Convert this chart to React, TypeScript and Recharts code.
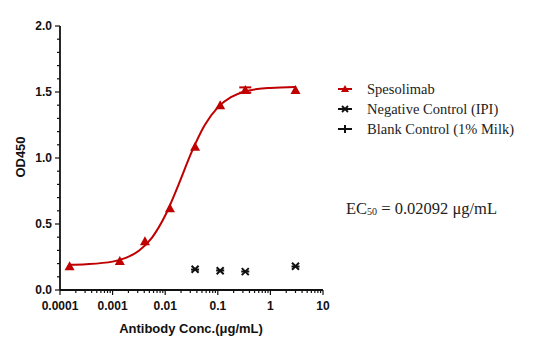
import React from "react"
import { ComposedChart, Line, Scatter, XAxis, YAxis, ErrorBar } from "recharts"

// Spesolimab measured points (3-fold dilution)
const concs = [0.000152, 0.00137, 0.00412, 0.0123, 0.037, 0.111, 0.333, 3]
const speso = [0.18, 0.22, 0.37, 0.62, 1.085, 1.40, 1.515, 1.515]
const spesoErr = [0, 0, 0, 0, 0, 0, 0.02, 0]

// fitted curve
const curveX = [0.000152, 0.000316, 0.001, 0.00178, 0.00316, 0.00562, 0.01, 0.0178, 0.0316, 0.0562, 0.1, 0.178, 0.316, 0.562, 1, 3]
const curveY = [0.192, 0.196, 0.215, 0.243, 0.297, 0.397, 0.564, 0.795, 1.042, 1.248, 1.384, 1.461, 1.502, 1.522, 1.531, 1.538]

const ctrlX = [0.037, 0.111, 0.333, 3]
const negCtrl = [0.157, 0.146, 0.139, 0.18]
const blankCtrl = [0.155, 0.148, 0.14, 0.178]

const xMajor = [0.0001, 0.001, 0.01, 0.1, 1, 10]
const xMajorLabels = ["0.0001", "0.001", "0.01", "0.1", "1", "10"]
const yMajor = [0, 0.5, 1, 1.5, 2]
const yMajorLabels = ["0.0", "0.5", "1.0", "1.5", "2.0"]

const RED = "#c00000"

const spesoData = concs.map((x, i) => ({ x, y: speso[i], err: spesoErr[i] }))
const curveData = curveX.map((x, i) => ({ x, y: curveY[i] }))
const negData = ctrlX.map((x, i) => ({ x, y: negCtrl[i] }))
const blankData = ctrlX.map((x, i) => ({ x, y: blankCtrl[i] }))

const xTicks: number[] = []
for (let d = -4; d < 1; d++) {
  for (let m = 1; m < 10; m++) xTicks.push(Number((m * Math.pow(10, d)).toPrecision(3)))
}
xTicks.push(10)
const yTicks: number[] = []
for (let i = 0; i <= 20; i++) yTicks.push(Number((i / 10).toFixed(1)))

const isMajorX = (v: number) => xMajor.some((m) => Math.abs(m - v) / m < 1e-6)
const isMajorY = (v: number) => yMajor.some((m) => Math.abs(m - v) < 1e-6)

const tickFont = { fontFamily: "Arial, 'Liberation Sans', sans-serif", fontWeight: 700, fontSize: 12, fill: "#111" }

const XTick = (props: any) => {
  const { x, y, payload } = props
  const major = isMajorX(payload.value)
  const idx = xMajor.findIndex((m) => Math.abs(m - payload.value) / m < 1e-6)
  return (
    <g>
      <line x1={x} x2={x} y1={y} y2={y + (major ? 5 : 3)} stroke="#111" strokeWidth={1.2} />
      {major && (
        <text x={x} y={y + 20} textAnchor="middle" {...tickFont}>
          {xMajorLabels[idx]}
        </text>
      )}
    </g>
  )
}

const YTick = (props: any) => {
  const { x, y, payload } = props
  const major = isMajorY(payload.value)
  const idx = yMajor.findIndex((m) => Math.abs(m - payload.value) < 1e-6)
  return (
    <g>
      <line x1={x} x2={x - (major ? 5 : 3)} y1={y} y2={y} stroke="#111" strokeWidth={1.2} />
      {major && (
        <text x={x - 8} y={y + 4} textAnchor="end" {...tickFont}>
          {yMajorLabels[idx]}
        </text>
      )}
    </g>
  )
}

const Triangle = (props: any) => {
  const { cx, cy } = props
  return <path d={`M${cx},${cy - 5} L${cx + 5},${cy + 4} L${cx - 5},${cy + 4} Z`} fill={RED} />
}

const Cross = (props: any) => {
  const { cx, cy } = props
  return (
    <path d={`M${cx - 3.5},${cy - 3.5} L${cx + 3.5},${cy + 3.5} M${cx + 3.5},${cy - 3.5} L${cx - 3.5},${cy + 3.5}`} stroke="#111" strokeWidth={2} />
  )
}

const Plus = (props: any) => {
  const { cx, cy } = props
  return <path d={`M${cx - 4},${cy} L${cx + 4},${cy}`} stroke="#111" strokeWidth={2} />
}

const serif = "'Liberation Serif', 'Times New Roman', serif"

export default function App() {
  return (
    <div style={{ position: "absolute", left: 0, top: 0, background: "#fff" }}>
      <ComposedChart width={535} height={353} margin={{ top: 26, right: 212, bottom: 0, left: 0 }}>
        <XAxis
          type="number"
          dataKey="x"
          scale="log"
          domain={[0.0001, 10]}
          ticks={xTicks}
          interval={0}
          allowDataOverflow
          height={63}
          tickSize={0}
          tickMargin={0}
          axisLine={{ stroke: "#111", strokeWidth: 1.8 }}
          tickLine={false}
          tick={<XTick />}
        />
        <YAxis
          type="number"
          dataKey="y"
          domain={[0, 2]}
          ticks={yTicks}
          interval={0}
          width={60}
          tickSize={0}
          tickMargin={0}
          axisLine={{ stroke: "#111", strokeWidth: 1.8 }}
          tickLine={false}
          tick={<YTick />}
        />
        <Line data={curveData} dataKey="y" type="monotone" stroke={RED} strokeWidth={2} dot={false} isAnimationActive={false} />
        <Scatter data={spesoData} dataKey="y" shape={<Triangle />} isAnimationActive={false}>
          <ErrorBar dataKey="err" direction="y" width={6} stroke={RED} strokeWidth={2} />
        </Scatter>
        <Scatter data={negData} dataKey="y" shape={<Cross />} isAnimationActive={false} />
        <Scatter data={blankData} dataKey="y" shape={<Plus />} isAnimationActive={false} />
        <text x={191} y={333} textAnchor="middle" fontFamily="Arial, 'Liberation Sans', sans-serif" fontWeight={700} fontSize={13} fill="#111">
          Antibody Conc.(μg/mL)
        </text>
        <text x={25} y={157} textAnchor="middle" transform="rotate(-90 25 157)" fontFamily="Arial, 'Liberation Sans', sans-serif" fontWeight={700} fontSize={13} fill="#111">
          OD450
        </text>
        {/* legend */}
        <g fontFamily={serif} fontSize={14.5} fill="#222">
          <line x1={338} x2={352} y1={89} y2={89} stroke={RED} strokeWidth={2} />
          <path d="M345,85 L349,92 L341,92 Z" fill={RED} />
          <text x={367} y={94}>Spesolimab</text>
          <line x1={338} x2={352} y1={109} y2={109} stroke="#111" strokeWidth={2} />
          <path d="M342,106 L348,112 M348,106 L342,112" stroke="#111" strokeWidth={1.8} />
          <text x={367} y={114}>Negative Control (IPI)</text>
          <line x1={338} x2={352} y1={129} y2={129} stroke="#111" strokeWidth={2} />
          <line x1={345} x2={345} y1={125} y2={133} stroke="#111" strokeWidth={2} />
          <text x={367} y={134}>Blank Control (1% Milk)</text>
        </g>
        <text x={346} y={214} fontFamily={serif} fontSize={16.5} fill="#222">
          EC<tspan fontSize={10} dy={1}>50</tspan>
          <tspan dy={-1}> = 0.02092 μg/mL</tspan>
        </text>
      </ComposedChart>
    </div>
  )
}
